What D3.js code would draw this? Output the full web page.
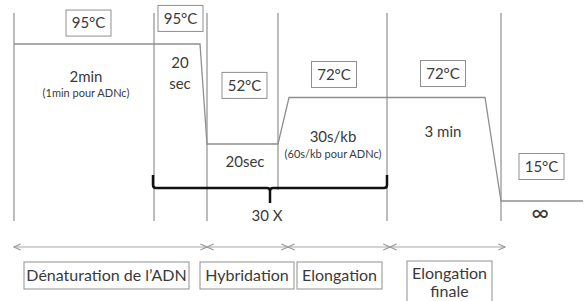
<!DOCTYPE html>
<html><head><meta charset="utf-8">
<script src="https://cdn.jsdelivr.net/npm/d3@7"></script>
<style>
html,body{margin:0;padding:0;background:#fff;}
svg{display:block;font-family:Lato,"Open Sans",sans-serif;}
</style></head>
<body>
<svg id="c" width="585" height="301"></svg>
<script>
// ---- data ----
// temperature profile (schematic time units, °C)
const profileTime = [0, 186, 193, 264, 275, 471, 487, 569];
const profileTemp = [95, 95, 52, 52, 72, 72, 15, 15];
// phase boundaries (schematic time units)
const boundaries = [0, 140, 193, 264, 373, 487];
const boundaryShort = [false, false, false, true, false, false];
// temperature labels
const tempLabels = ["95°C", "95°C", "52°C", "72°C", "72°C", "15°C"];
const tempLabelTime = [74.5, 166.5, 230.5, 320, 429, 527.5];
const tempLabelTemp = [104, 106, 77.2, 81.9, 82.3, 37.4];
// duration texts
const durLines = [
  ["2min", "(1min pour ADNc)"],
  ["20", "sec"],
  ["20sec"],
  ["30s/kb", "(60s/kb pour ADNc)"],
  ["3 min"],
  ["∞"]
];
const durTime = [72, 166, 231, 319, 429, 526];
// phases (arrows) and labels
const phaseStart = [0, 193, 274, 376];
const phaseEnd = [193, 274, 376, 491];
const phaseNames = [["Dénaturation de l’ADN"], ["Hybridation"], ["Elongation"], ["Elongation", "finale"]];
const phaseBoxStart = [10, 186, 283, 393];
const phaseBoxEnd = [175, 280, 368, 478];
const cycles = "30 X";
const cycleStart = 139, cycleEnd = 373, cycleMid = 256;

// ---- scales ----
const svg = d3.select("#c");
const x = d3.scaleLinear().domain([0, 569]).range([14, 583]);
const y = d3.scaleLinear().domain([15, 52, 95]).range([201, 144, 44]);
const gray = "#8f8f8f";
const txt = "#3a3a3a";

// vertical boundaries
svg.selectAll("line.b").data(boundaries).join("line")
  .attr("x1", d => x(d)).attr("x2", d => x(d))
  .attr("y1", 13).attr("y2", (d, i) => boundaryShort[i] ? 190 : 221)
  .attr("stroke", gray).attr("stroke-width", 1.2);

// temperature profile
const line = d3.line().x(d => x(d[0])).y(d => y(d[1]));
svg.append("path").datum(profileTime.map((t, i) => [t, profileTemp[i]]))
  .attr("d", line).attr("fill", "none").attr("stroke", gray).attr("stroke-width", 1.3);

// temperature boxes
const bw = 45, bh = 26;
const tg = svg.selectAll("g.t").data(tempLabels).join("g")
  .attr("transform", (d, i) => `translate(${x(tempLabelTime[i])},${y(tempLabelTemp[i])})`);
tg.append("rect").attr("x", -bw / 2).attr("y", -bh / 2).attr("width", bw).attr("height", bh)
  .attr("fill", "#fff").attr("stroke", gray).attr("stroke-width", 1);
tg.append("text").text(d => d).attr("text-anchor", "middle").attr("dy", "0.36em")
  .attr("font-size", 15).attr("fill", txt);

// duration texts
const durY = [[82, 97], [68, 89], [167], [142, 158], [137], [221]];
const durSize = [[15, 11], [15, 15], [15], [15, 11], [15], [24]];
durLines.forEach((lines, i) => {
  lines.forEach((s, j) => {
    svg.append("text").attr("x", x(durTime[i])).attr("y", durY[i][j])
      .attr("text-anchor", "middle").attr("font-size", durSize[i][j]).attr("fill", txt).text(s);
  });
});

// cycle bracket
const bx0 = x(cycleStart), bx1 = x(cycleEnd), bm = x(cycleMid), by = 188;
svg.append("path")
  .attr("d", `M${bx0},175 L${bx0},${by - 3} Q${bx0},${by} ${bx0 + 3},${by} L${bm - 3},${by} Q${bm},${by} ${bm},${by + 3} L${bm},203 M${bm},${by + 3} Q${bm},${by} ${bm + 3},${by} L${bx1 - 3},${by} Q${bx1},${by} ${bx1},${by - 3} L${bx1},175`)
  .attr("fill", "none").attr("stroke", "#111").attr("stroke-width", 2.5);
svg.append("text").attr("x", bm - 3).attr("y", 221).attr("text-anchor", "middle")
  .attr("font-size", 15).attr("fill", txt).text(cycles);

// phase arrows
const ay = 247;
const defs = svg.append("defs");
defs.append("marker").attr("id", "ah").attr("viewBox", "0 0 10 10").attr("refX", 9).attr("refY", 5)
  .attr("markerWidth", 7).attr("markerHeight", 7).attr("orient", "auto-start-reverse")
  .append("path").attr("d", "M1,1.5 L9,5 L1,8.5").attr("fill", "none").attr("stroke", "#999").attr("stroke-width", 1.3);
svg.selectAll("line.a").data(phaseStart).join("line")
  .attr("x1", d => x(d)).attr("x2", (d, i) => x(phaseEnd[i]))
  .attr("y1", ay).attr("y2", ay).attr("stroke", "#aaa").attr("stroke-width", 1.2)
  .attr("marker-start", "url(#ah)").attr("marker-end", "url(#ah)");

// phase label boxes
phaseNames.forEach((lines, i) => {
  const x0 = x(phaseBoxStart[i]), x1 = x(phaseBoxEnd[i]);
  const h = lines.length > 1 ? 50 : 27;
  svg.append("rect").attr("x", x0).attr("y", lines.length > 1 ? 261 : 262)
    .attr("width", x1 - x0).attr("height", h)
    .attr("fill", "#fff").attr("stroke", gray).attr("stroke-width", 1);
  lines.forEach((s, j) => {
    svg.append("text").attr("x", (x0 + x1) / 2).attr("y", lines.length > 1 ? 279 + j * 18 : 281)
      .attr("text-anchor", "middle").attr("font-size", 16).attr("fill", txt).text(s);
  });
});
</script>
</body></html>
